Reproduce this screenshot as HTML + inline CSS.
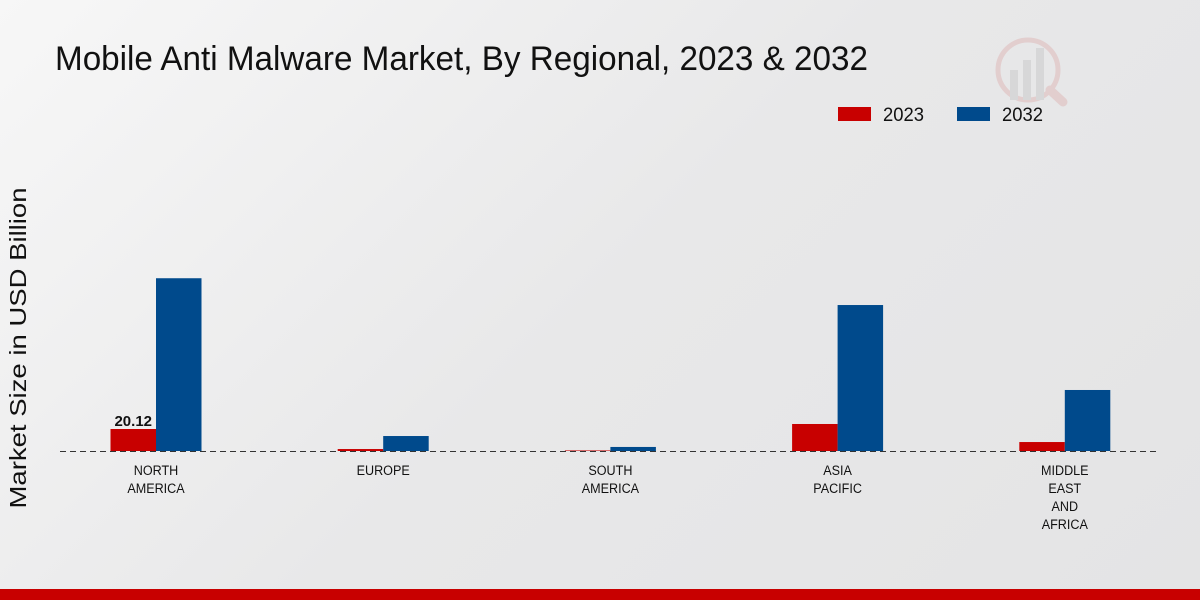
<!DOCTYPE html>
<html><head><meta charset="utf-8"><style>
html,body{margin:0;padding:0}
body{width:1200px;height:600px;overflow:hidden;background:linear-gradient(135deg,#f7f7f7 0%,#e8e8e9 50%,#e4e4e5 100%);font-family:"Liberation Sans",sans-serif;position:relative}
</style></head><body>
<svg id="chart" width="1200" height="600" style="position:absolute;left:0;top:0">
<text x="55" y="70" font-size="34" fill="#111" textLength="813" lengthAdjust="spacingAndGlyphs">Mobile Anti Malware Market, By Regional, 2023 &amp; 2032</text>
<g opacity="0.35">
<circle cx="1028" cy="70" r="30" fill="none" stroke="#d9a0a0" stroke-width="5"/>
<rect x="1010" y="70" width="8" height="30" fill="#bbb"/><rect x="1023" y="60" width="8" height="40" fill="#bbb"/><rect x="1036" y="48" width="8" height="52" fill="#bbb"/>
<line x1="1050" y1="90" x2="1063" y2="102" stroke="#d9a0a0" stroke-width="9" stroke-linecap="round"/>
</g>
<g>
<rect x="838" y="107" width="33" height="14" fill="#c80000"/>
<text x="883" y="121" font-size="19" fill="#111" textLength="41" lengthAdjust="spacingAndGlyphs">2023</text>
<rect x="957" y="107" width="33" height="14" fill="#004a8c"/>
<text x="1002" y="121" font-size="19" fill="#111" textLength="41" lengthAdjust="spacingAndGlyphs">2032</text>
</g>
<text transform="translate(26 348) rotate(-90)" text-anchor="middle" font-size="23" fill="#111" textLength="321" lengthAdjust="spacingAndGlyphs">Market Size in USD Billion</text>
<g id="bars"></g>
<line x1="60" y1="451.5" x2="1160" y2="451.5" stroke="#333" stroke-width="1" stroke-dasharray="6,4"/>
<g id="labels"></g>
<rect x="0" y="589" width="1200" height="11" fill="#c80000"/>
</svg>
<script>
const categories=[["NORTH","AMERICA"],["EUROPE"],["SOUTH","AMERICA"],["ASIA","PACIFIC"],["MIDDLE","EAST","AND","AFRICA"]];
const values2023=[20.12,1.8,0.5,24.7,8.2];
const values2032=[158,13.7,3.7,133.5,55.8];
const NS="http://www.w3.org/2000/svg";
const base=451, pxPerUnit=22/20.12;
const xc=i=>156+i*227.2;
const y=v=>base-v*pxPerUnit;
const bars=document.getElementById('bars'),labels=document.getElementById('labels');
function bar(x,v,color,name){const r=document.createElementNS(NS,'rect');
r.setAttribute('x',x);r.setAttribute('y',y(v));r.setAttribute('width',45.5);r.setAttribute('height',base-y(v));r.setAttribute('fill',color);


bars.appendChild(r);}
categories.forEach((c,i)=>{
bar(xc(i)-45.5,values2023[i],'#c80000','bar-2023-'+i);
bar(xc(i),values2032[i],'#004a8c','bar-2032-'+i);
c.forEach((line,j)=>{const t=document.createElementNS(NS,'text');
t.setAttribute('x',xc(i));t.setAttribute('y',475+j*18);t.setAttribute('text-anchor','middle');t.setAttribute('font-size','14');t.setAttribute('fill','#111');
t.setAttribute('transform',`translate(${xc(i)} 0) scale(0.9 1) translate(${-xc(i)} 0)`);
t.textContent=line;


labels.appendChild(t);});
});
const vl=document.createElementNS(NS,'text');
vl.setAttribute('x',xc(0)-22.75);vl.setAttribute('y',y(values2023[0])-3);vl.setAttribute('text-anchor','middle');vl.setAttribute('font-size','15');vl.setAttribute('font-weight','bold');vl.setAttribute('fill','#111');
vl.textContent=values2023[0].toFixed(2);


labels.appendChild(vl);
</script>
</body></html>
